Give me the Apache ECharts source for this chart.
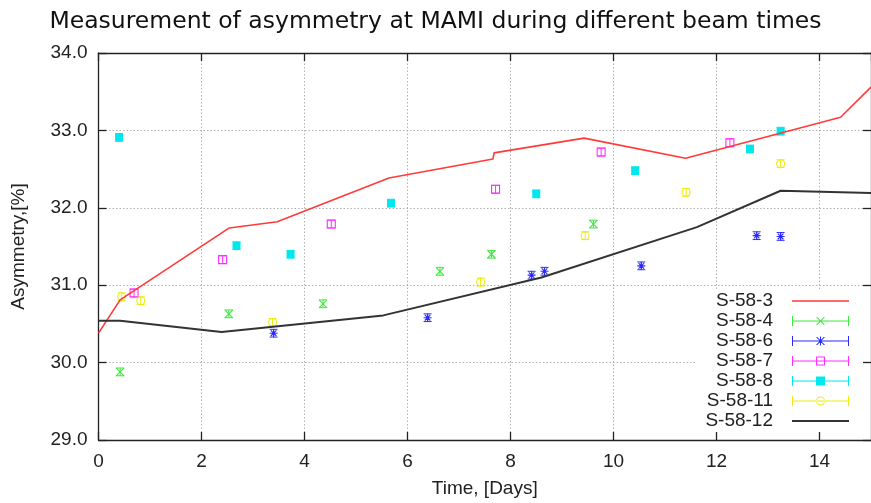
<!DOCTYPE html>
<html>
<head>
<meta charset="utf-8">
<script src="https://cdn.jsdelivr.net/npm/echarts@6/dist/echarts.min.js"></script>
<style>html,body{margin:0;padding:0;background:#fff}#c{width:871px;height:503px}</style>
</head>
<body>
<div id="c"></div>
<script>
// ---- data ----
const titleText = 'Measurement of asymmetry at MAMI during different beam times';
const xName = 'Time, [Days]';
const yName = 'Asymmetry,[%]';
const xMin = 0, xMax = 15, xStep = 2;
const yMin = 29, yMax = 34, yStep = 1;

// S-58-3 (red line)
const s3X = [0, 0.42, 2.54, 3.47, 5.64, 7.66, 7.68, 9.43, 11.40, 14.41, 15];
const s3Y = [30.38, 30.81, 31.74, 31.82, 32.385, 32.63, 32.71, 32.90, 32.64, 33.17, 33.56];
// S-58-12 (black line)
const s12X = [0, 0.42, 2.39, 5.53, 8.6, 11.62, 13.245, 15];
const s12Y = [30.54, 30.54, 30.395, 30.61, 31.10, 31.75, 32.22, 32.19];
// S-58-4
const s4X = [0.42, 2.53, 4.36, 6.63, 7.63, 9.61];
const s4Y = [29.88, 30.63, 30.76, 31.18, 31.40, 31.79];
const s4E = [0.05, 0.05, 0.05, 0.05, 0.05, 0.05];
// S-58-6
const s6X = [3.40, 6.39, 8.41, 8.66, 10.54, 12.78, 13.245];
const s6Y = [30.38, 30.58, 31.13, 31.18, 31.25, 31.64, 31.63];
const s6E = [0.05, 0.05, 0.05, 0.05, 0.05, 0.05, 0.05];
// S-58-7
const s7X = [0.69, 2.41, 4.52, 7.71, 9.76, 12.26];
const s7Y = [30.90, 31.33, 31.79, 32.24, 32.72, 32.84];
const s7E = [0.05, 0.05, 0.05, 0.05, 0.05, 0.05];
// S-58-8
const s8X = [0.40, 2.68, 3.73, 5.68, 8.50, 10.42, 12.65, 13.245];
const s8Y = [32.91, 31.51, 31.40, 32.06, 32.18, 32.48, 32.76, 32.99];
const s8E = [0.05, 0.05, 0.05, 0.05, 0.05, 0.05, 0.05, 0.05];
// S-58-11
const s11X = [0.45, 0.82, 3.38, 7.42, 9.45, 11.41, 13.245];
const s11Y = [30.85, 30.80, 30.52, 31.04, 31.64, 32.20, 32.57];
const s11E = [0.05, 0.05, 0.05, 0.05, 0.05, 0.05, 0.05];

// ---- styles ----
const FONT = 'Liberation Sans';
const C3 = '#ff3a3a', C12 = '#333333', C4 = '#3fe83f', C6 = '#2a2aff',
      C7 = '#ff2eff', C8 = '#00e8ee', C11 = '#ecec10';

const pair = (xs, ys) => xs.map((x, i) => [x, ys[i]]);
const triple = (xs, ys, es) => xs.map((x, i) => [x, ys[i], es[i]]);

const SYM_X = 'path://M0,0L10,10M10,0L0,10';
const SYM_AST = 'path://M0,5L10,5M5,0L5,10M1.5,1.5L8.5,8.5M8.5,1.5L1.5,8.5';

// legend icons (57 x 10): bar with caps + marker
const BAR = 'M0,4.5h57v1h-57zM0,0h1v10h-1zM56,0h1v10h-1z';
const ICON_X = 'path://' + BAR + 'M24,1h1.3L33,9h-1.3zM31.7,1h1.3L25.3,9h-1.3z';
const ICON_AST = 'path://' + BAR + 'M24,1h1.3L33,9h-1.3zM31.7,1h1.3L25.3,9h-1.3zM28,0.5h1v9h-1z';
const ICON_ESQ = 'path://' + BAR + 'M24,0.5h9v9h-9zM25,1.5v7h7v-7z';
const ICON_FSQ = 'path://' + BAR + 'M24,0.5h9v9h-9z';
const ICON_CIR = 'path://' + BAR + 'M24,5a4.5,4.5 0 1,0 9,0a4.5,4.5 0 1,0 -9,0zM25,5a3.5,3.5 0 1,1 7,0a3.5,3.5 0 1,1 -7,0z';
const ICON_LINE3 = 'path://M0,0h57v1.6h-57z';
const ICON_LINE12 = 'path://M0,0h57v2h-57z';

function errSeries(color, rows) {
  return {
    type: 'custom', silent: true, z: 3,
    data: rows,
    encode: { x: 0, y: 1 },
    renderItem: function (params, api) {
      const x = api.value(0), y = api.value(1), e = api.value(2);
      const t = api.coord([x, y + e]), b = api.coord([x, y - e]);
      const w = 4;
      const st = { stroke: color, lineWidth: 1 };
      return { type: 'group', children: [
        { type: 'line', shape: { x1: t[0], y1: t[1], x2: b[0], y2: b[1] }, style: st },
        { type: 'line', shape: { x1: t[0] - w, y1: t[1], x2: t[0] + w, y2: t[1] }, style: st },
        { type: 'line', shape: { x1: b[0] - w, y1: b[1], x2: b[0] + w, y2: b[1] }, style: st }
      ]};
    }
  };
}

function scat(name, color, symbol, filled, rows) {
  return {
    name: name, type: 'scatter', z: 4,
    symbol: symbol, symbolSize: 8,
    data: rows.map(r => [r[0], r[1]]),
    itemStyle: filled ? { color: color, opacity: 1 } :
      { color: 'transparent', borderColor: color, borderWidth: 1.1, opacity: 1 },
    emphasis: { disabled: true }
  };
}

const chart = echarts.init(document.getElementById('c'), null, { renderer: 'canvas' });
const axisLineStyle = { color: '#222', width: 1.3 };
const option = {
  animation: false,
  backgroundColor: '#fff',
  title: {
    text: titleText, left: 'center', top: 5,
    textStyle: { fontFamily: 'DejaVu Sans', fontSize: 23.5, fontWeight: 'normal', color: '#111' }
  },
  grid: { left: 98.5, right: -2.7, top: 53, bottom: 63, containLabel: false },
  xAxis: [{
    type: 'value', min: xMin, max: xMax, interval: xStep, position: 'bottom',
    name: xName, nameLocation: 'middle', nameGap: 39,
    nameTextStyle: { fontFamily: FONT, fontSize: 19, color: '#222' },
    axisLine: { show: true, onZero: false, lineStyle: axisLineStyle },
    axisTick: { show: true, inside: true, length: 8, lineStyle: axisLineStyle },
    axisLabel: { fontFamily: FONT, fontSize: 19, color: '#222', margin: 12, showMaxLabel: false },
    splitLine: { show: true, lineStyle: { color: '#b0b0b0', width: 1, type: [1.5, 2] } }
  }, {
    type: 'value', min: xMin, max: xMax, interval: xStep, position: 'top',
    axisLine: { show: true, onZero: false, lineStyle: axisLineStyle },
    axisTick: { show: true, inside: true, length: 8, lineStyle: axisLineStyle },
    axisLabel: { show: false }, splitLine: { show: false }
  }],
  yAxis: [{
    type: 'value', min: yMin, max: yMax, interval: yStep, position: 'left',
    name: yName, nameLocation: 'middle', nameGap: 70,
    nameTextStyle: { fontFamily: FONT, fontSize: 19, color: '#222' },
    axisLine: { show: true, onZero: false, lineStyle: axisLineStyle },
    axisTick: { show: true, inside: true, length: 8, lineStyle: axisLineStyle },
    axisLabel: { fontFamily: FONT, fontSize: 19, color: '#222', margin: 11,
      formatter: v => v.toFixed(1) },
    splitLine: { show: true, lineStyle: { color: '#b0b0b0', width: 1, type: [1.5, 2] } }
  }, {
    type: 'value', min: yMin, max: yMax, interval: yStep, position: 'right',
    axisLine: { show: true, onZero: false, lineStyle: axisLineStyle },
    axisTick: { show: true, inside: true, length: 8, lineStyle: axisLineStyle },
    axisLabel: { show: false }, splitLine: { show: false }
  }],
  legend: {
    orient: 'vertical', align: 'right', left: 697, top: 289,
    padding: [2, 14, 1, 4], backgroundColor: '#fff',
    itemWidth: 57, itemHeight: 10, itemGap: 0,
    selectedMode: false,
    textStyle: { fontFamily: FONT, fontSize: 19, color: '#222', lineHeight: 20,
      width: 72, align: 'right', padding: [0, 14, 0, 0] },
    data: [
      { name: 'S-58-3', icon: ICON_LINE3, itemStyle: { color: C3, borderWidth: 0 } },
      { name: 'S-58-4', icon: ICON_X, itemStyle: { color: C4, borderWidth: 0 } },
      { name: 'S-58-6', icon: ICON_AST, itemStyle: { color: C6, borderWidth: 0 } },
      { name: 'S-58-7', icon: ICON_ESQ, itemStyle: { color: C7, borderWidth: 0 } },
      { name: 'S-58-8', icon: ICON_FSQ, itemStyle: { color: C8, borderWidth: 0 } },
      { name: 'S-58-11', icon: ICON_CIR, itemStyle: { color: C11, borderWidth: 0 } },
      { name: 'S-58-12', icon: ICON_LINE12, itemStyle: { color: C12, borderWidth: 0 } }
    ]
  },
  series: [
    { name: 'S-58-3', type: 'line', symbol: 'none', z: 5, data: pair(s3X, s3Y),
      lineStyle: { color: C3, width: 1.6 }, itemStyle: { color: C3 }, emphasis: { disabled: true } },
    errSeries(C4, triple(s4X, s4Y, s4E)),
    scat('S-58-4', C4, SYM_X, false, triple(s4X, s4Y, s4E)),
    errSeries(C6, triple(s6X, s6Y, s6E)),
    scat('S-58-6', C6, SYM_AST, false, triple(s6X, s6Y, s6E)),
    errSeries(C7, triple(s7X, s7Y, s7E)),
    scat('S-58-7', C7, 'rect', false, triple(s7X, s7Y, s7E)),
    errSeries(C8, triple(s8X, s8Y, s8E)),
    scat('S-58-8', C8, 'rect', true, triple(s8X, s8Y, s8E)),
    errSeries(C11, triple(s11X, s11Y, s11E)),
    scat('S-58-11', C11, 'circle', false, triple(s11X, s11Y, s11E)),
    { name: 'S-58-12', type: 'line', symbol: 'none', z: 5, data: pair(s12X, s12Y),
      lineStyle: { color: C12, width: 2 }, itemStyle: { color: C12 }, emphasis: { disabled: true } }
  ]
};
chart.setOption(option);
</script>
</body>
</html>
